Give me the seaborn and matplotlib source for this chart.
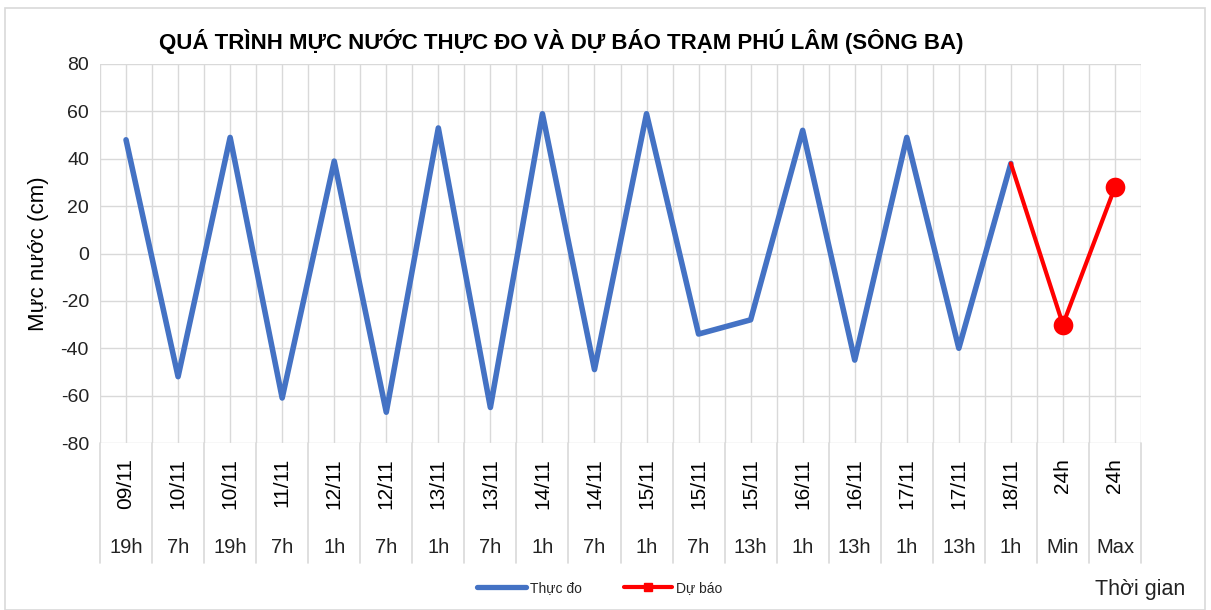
import matplotlib
matplotlib.use("Agg")
import matplotlib.pyplot as plt
from matplotlib.lines import Line2D
from matplotlib.patches import Rectangle
import seaborn as sns
import pandas as pd

dates = ["09/11", "10/11", "10/11", "11/11", "12/11", "12/11", "13/11", "13/11",
         "14/11", "14/11", "15/11", "15/11", "15/11", "16/11", "16/11", "17/11",
         "17/11", "18/11", "24h", "24h"]
hours = ["19h", "7h", "19h", "7h", "1h", "7h", "1h", "7h", "1h", "7h", "1h", "7h",
         "13h", "1h", "13h", "1h", "13h", "1h", "Min", "Max"]
observed = [48, -52, 49, -61, 39, -67, 53, -65, 59, -49, 59, -34, -28, 52, -45, 49, -40, 38]
forecast_start = 38
forecast = [-30, 28]

sns.set_theme(style="white")
plt.rcParams['font.family'] = ['Liberation Sans', 'DejaVu Sans']
plt.rcParams['axes.unicode_minus'] = False

fig = plt.figure(figsize=(12.11, 6.10), dpi=100)
ax = fig.add_axes([100/1211, 1-443/610, 1041/1211, 379/610])

n_obs = len(observed)
obs_df = pd.DataFrame({"x": list(range(n_obs)), "y": observed})
fc_x = [n_obs - 1] + [n_obs + i for i in range(len(forecast))]
fc_df = pd.DataFrame({"x": fc_x, "y": [forecast_start] + forecast})
pts_df = fc_df.iloc[1:]

blue = "#4472C4"
red = "#FF0000"
sns.lineplot(data=obs_df, x="x", y="y", ax=ax, color=blue, linewidth=4.0,
             solid_capstyle="round", solid_joinstyle="round", zorder=3)
sns.lineplot(data=fc_df, x="x", y="y", ax=ax, color=red, linewidth=3.0,
             solid_capstyle="round", solid_joinstyle="round", zorder=4)
sns.scatterplot(data=pts_df, x="x", y="y", ax=ax, color=red, s=200,
                edgecolor=red, linewidth=0, zorder=5)

n = len(dates)
ax.set_xlim(-0.5, n - 0.5)
ax.set_ylim(-80, 80)
ax.set_yticks(range(-80, 81, 20))
ax.set_xticks([])
ax.set_xlabel("")
ax.set_ylabel("Mực nước (cm)", fontsize=16, color="#000000", labelpad=8)
ax.tick_params(axis="y", labelsize=14, colors="#222222", length=0, pad=8)

grid_c = "#D9D9D9"
for v in range(-80, 81, 20):
    ax.axhline(v, color=grid_c, linewidth=1.0, zorder=1)
for k in range(2 * n + 1):
    ax.axvline(-0.5 + 0.5 * k, color=grid_c, linewidth=1.0, zorder=1)
for s in ax.spines.values():
    s.set_visible(False)

tr = ax.get_xaxis_transform()
for i in range(n):
    ax.text(i, -0.04, dates[i], rotation=90, ha="center", va="top",
            fontsize=15, color="#000000", transform=tr)
    ax.text(i, -0.277, hours[i], ha="center", va="center",
            fontsize=14.5, color="#222222", transform=tr)
for k in range(n + 1):
    ax.add_line(Line2D([-0.5 + k, -0.5 + k], [0, -0.317], transform=tr,
                       color=grid_c, linewidth=1.2, clip_on=False))

fig.text(561/1211, 1-42/610, "QUÁ TRÌNH MỰC NƯỚC THỰC ĐO VÀ DỰ BÁO TRẠM PHÚ LÂM (SÔNG BA)",
         ha="center", va="center", fontsize=16, fontweight="bold", color="#000000")
fig.text(1140/1211, 1-590/610, "Thời gian", ha="center", va="center",
         fontsize=15.5, color="#222222")

handles = [Line2D([], [], color=blue, linewidth=3.8),
           Line2D([], [], color=red, linewidth=3.0, marker="s", markersize=6)]
fig.legend(handles, ["Thực đo", "Dự báo"], loc="center", bbox_to_anchor=(600/1211, 1-588/610),
           ncol=2, frameon=False, fontsize=10, handlelength=3.5, columnspacing=3,
           handletextpad=0.3)

fig.patches.append(Rectangle((5/1211, 0), 1200/1211, 1-8/610, transform=fig.transFigure,
                             fill=False, edgecolor="#D9D9D9", linewidth=1.2))

fig.savefig("out.png", dpi=100, facecolor="white")
